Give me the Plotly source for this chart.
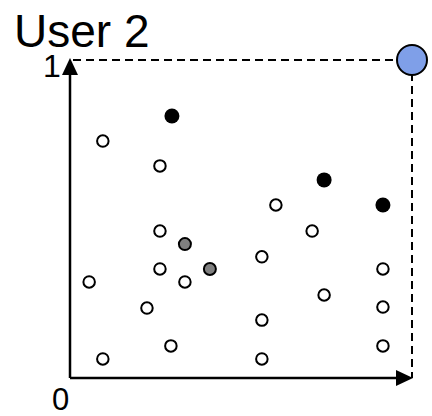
import plotly.graph_objects as go

# ---- data (unit square: User 1 on x, User 2 on y) ----
open_x = [0.096, 0.263, 0.602, 0.263, 0.708, 0.056, 0.263, 0.336, 0.561,
          0.915, 0.225, 0.743, 0.915, 0.561, 0.295, 0.096, 0.561, 0.915]
open_y = [0.745, 0.667, 0.544, 0.462, 0.462, 0.302, 0.343, 0.302, 0.381,
          0.343, 0.220, 0.261, 0.223, 0.182, 0.101, 0.060, 0.060, 0.101]
black_x = [0.298, 0.743, 0.915]
black_y = [0.824, 0.623, 0.544]
gray_x = [0.336, 0.409]
gray_y = [0.421, 0.343]
ideal_x = [1.0]
ideal_y = [1.0]
axis_labels = {"origin": "0", "ymax": "1", "ytitle": "User 2"}

# ---- geometry (pixels) ----
W, H = 432, 416
X0, X1 = 70, 412     # pixel x of data 0 and 1
Y0, Y1 = 378, 60     # pixel y of data 0 and 1
sx = (X1 - X0)
sy = (Y0 - Y1)
xr = [(0 - X0) / sx, (W - X0) / sx]
yr = [(Y0 - H) / sy, (Y0 - 0) / sy]

def dx(px):  # pixel length -> data length in x
    return px / sx

def dy(px):
    return px / sy

fig = go.Figure()

# dashed guide lines to the ideal point
fig.add_shape(type="line", x0=0 + dx(3), y0=1, x1=1, y1=1,
              line=dict(color="black", width=2, dash="8px,5px"), layer="below")
fig.add_shape(type="line", x0=1, y0=1, x1=1, y1=0,
              line=dict(color="black", width=2, dash="8px,5px"), layer="below")

# axes
fig.add_shape(type="line", x0=0, y0=0, x1=0, y1=1 - dy(14),
              line=dict(color="black", width=2.5))
fig.add_shape(type="line", x0=0, y0=0, x1=1 - dx(14), y1=0,
              line=dict(color="black", width=2.5))
# arrowheads
ah_l, ah_w = 17, 8
fig.add_shape(type="path",
              path=f"M 0,{1 + dy(2)} L {-dx(ah_w)},{1 + dy(2) - dy(ah_l)} L {dx(ah_w)},{1 + dy(2) - dy(ah_l)} Z",
              fillcolor="black", line=dict(width=0))
fig.add_shape(type="path",
              path=f"M {1 + dx(1)},0 L {1 + dx(1) - dx(ah_l)},{dy(ah_w)} L {1 + dx(1) - dx(ah_l)},{-dy(ah_w)} Z",
              fillcolor="black", line=dict(width=0))

fig.add_trace(go.Scatter(x=open_x, y=open_y, mode="markers",
                         marker=dict(size=11.5, color="white",
                                     line=dict(color="black", width=2))))
fig.add_trace(go.Scatter(x=gray_x, y=gray_y, mode="markers",
                         marker=dict(size=12, color="#808080",
                                     line=dict(color="black", width=2))))
fig.add_trace(go.Scatter(x=black_x, y=black_y, mode="markers",
                         marker=dict(size=15, color="black",
                                     line=dict(color="black", width=0))))
fig.add_trace(go.Scatter(x=ideal_x, y=ideal_y, mode="markers",
                         marker=dict(size=30, color="#7f9fe8",
                                     line=dict(color="black", width=2))))

font = "Arial, Liberation Sans, sans-serif"
fig.add_annotation(x=12 / W, y=1 - 31 / H, xref="paper", yref="paper",
                   text=axis_labels["ytitle"], showarrow=False,
                   xanchor="left", yanchor="middle",
                   font=dict(family=font, size=46, color="black"))
fig.add_annotation(x=63 / W, y=1 - 66 / H, xref="paper", yref="paper",
                   text=axis_labels["ymax"], showarrow=False,
                   xanchor="right", yanchor="middle",
                   font=dict(family=font, size=32, color="black"))
fig.add_annotation(x=60 / W, y=1 - 399 / H, xref="paper", yref="paper",
                   text=axis_labels["origin"], showarrow=False,
                   xanchor="center", yanchor="middle",
                   font=dict(family=font, size=31, color="black"))

fig.update_layout(width=W, height=H, margin=dict(l=0, r=0, t=0, b=0),
                  paper_bgcolor="white", plot_bgcolor="white",
                  showlegend=False,
                  xaxis=dict(range=xr, visible=False, fixedrange=True),
                  yaxis=dict(range=yr, visible=False, fixedrange=True))
fig.write_html("out.html", config={"displayModeBar": False},
               post_script="document.body.style.margin='0';document.body.style.overflow='hidden';")
